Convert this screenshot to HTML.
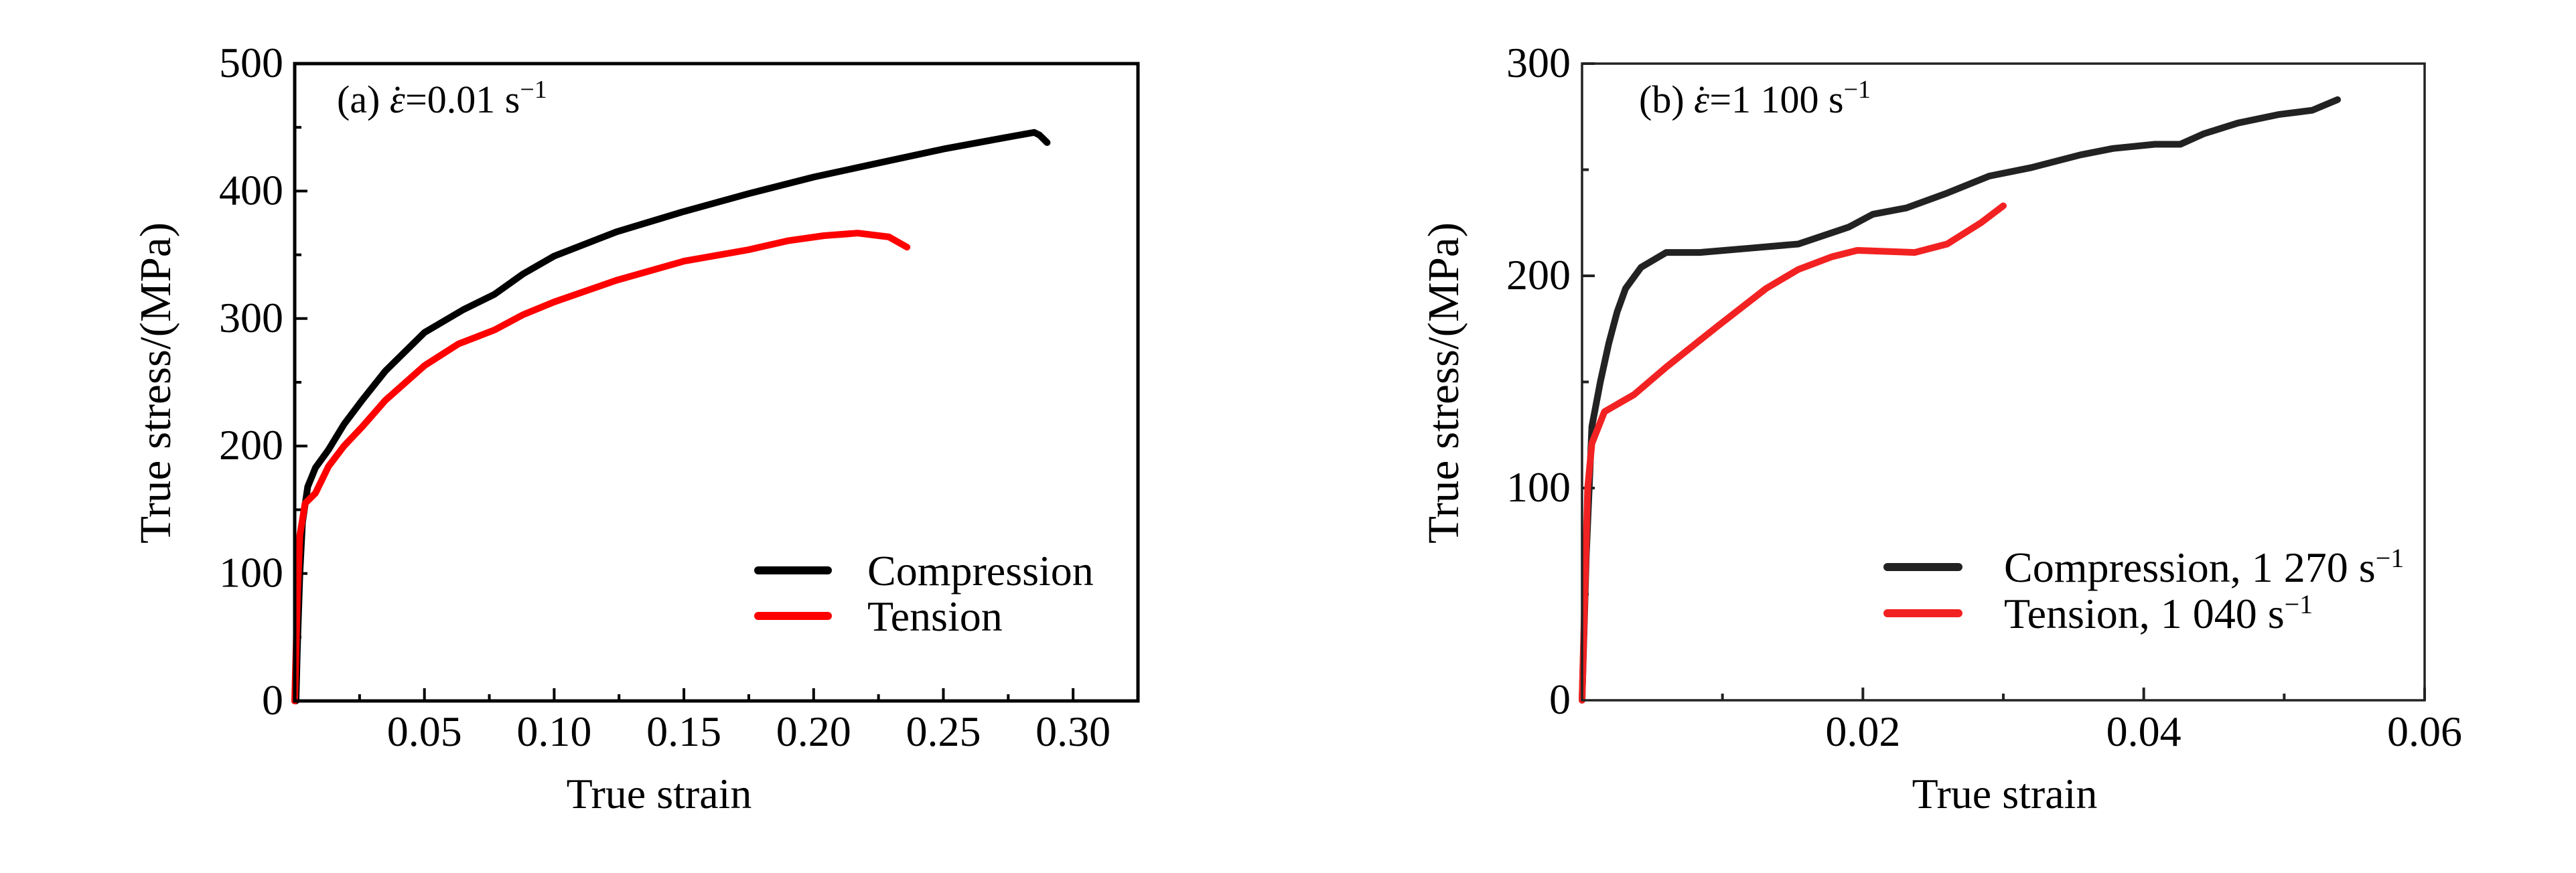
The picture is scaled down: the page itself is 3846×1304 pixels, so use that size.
<!DOCTYPE html>
<html><head><meta charset="utf-8"><style>
html,body{margin:0;padding:0;background:#fff}
svg text{font-family:"Liberation Serif","DejaVu Serif",serif;fill:#000}
</style></head><body>
<svg id="fig" width="3846" height="1299" viewBox="0 0 3846 1299" xmlns="http://www.w3.org/2000/svg">
<rect width="3846" height="1299" fill="#fff"/>
<g id="pa"></g>
<g id="pb"></g>
</svg>
<script>
// Panel (a) data
const aCompX=[0,0.0005,0.001,0.002,0.003,0.005,0.008,0.013,0.019,0.026,0.035,0.05,0.065,0.077,0.088,0.10,0.124,0.15,0.175,0.20,0.225,0.25,0.274,0.285,0.287,0.29];
const aCompY=[0,0,40,100,140,168,183,197,217,236,259,289,307,319,335,349,368,384,398,411,422,433,442,446,444,438];
const aTensX=[0,0.001,0.002,0.004,0.008,0.013,0.019,0.026,0.035,0.05,0.063,0.077,0.088,0.10,0.124,0.15,0.175,0.19,0.204,0.217,0.229,0.236];
const aTensY=[0,80,130,155,163,184,200,215,236,263,280,291,303,313,330,345,354,361,365,367,364,356];
const aXTicks=["0.05","0.10","0.15","0.20","0.25","0.30"];
const aYTicks=["0","100","200","300","400","500"];
// Panel (b) data
const bCompX=[0,0.0003,0.0007,0.0013,0.0019,0.0025,0.0031,0.0042,0.006,0.0084,0.0119,0.0154,0.019,0.0207,0.0231,0.026,0.029,0.032,0.0355,0.0378,0.0408,0.0426,0.0443,0.0467,0.0496,0.052,0.0538];
const bCompY=[0,68,129,150,168,183,194,204,211,211,213,215,223,229,232,239,247,251,257,260,262,262,267,272,276,278,283];
const bTensX=[0,0.0002,0.0004,0.0007,0.0016,0.0037,0.006,0.0096,0.0131,0.0154,0.0178,0.0196,0.0237,0.026,0.0284,0.03];
const bTensY=[0,50,100,121,136,144,157,176,194,203,209,212,211,215,225,233];
const bXTicks=["0.02","0.04","0.06"];
const bYTicks=["0","100","200","300"];

const NS="http://www.w3.org/2000/svg";
function mk(parent,tag,attrs){const e=document.createElementNS(NS,tag);for(const k in attrs)e.setAttribute(k,attrs[k]);parent.appendChild(e);return e;}

function panel(g,cfg){
  const {x0,x1,y0,y1,xmax,ymax}=cfg;
  const sx=v=>x0+(v/xmax)*(x1-x0);
  const sy=v=>y1-(v/ymax)*(y1-y0);
  const axc=cfg.axisColor;
  for(let v=cfg.xMinor;v<xmax+1e-9;v+=cfg.xMinor){
    const major=Math.abs(Math.round(v/cfg.xMajor)*cfg.xMajor-v)<1e-9;
    const t=mk(g,'line',{x1:sx(v),x2:sx(v),y1:y1,y2:y1-(major?19:10),stroke:axc,'stroke-width':4});
    
    
  }
  for(let v=cfg.yMinor;v<ymax+1e-9;v+=cfg.yMinor){
    const major=Math.abs(Math.round(v/cfg.yMajor)*cfg.yMajor-v)<1e-9;
    const t=mk(g,'line',{x1:x0,x2:x0+(major?19:10),y1:sy(v),y2:sy(v),stroke:axc,'stroke-width':4});
    
    
  }
  cfg.xTicks.forEach(s=>{
    const t=mk(g,'text',{x:sx(parseFloat(s)),y:1114,'font-size':64,'text-anchor':'middle'});
    t.textContent=s;
    
    
  });
  cfg.yTicks.forEach(s=>{
    const t=mk(g,'text',{x:x0-17,y:sy(parseFloat(s))+20,'font-size':64,'text-anchor':'end'});
    t.textContent=s;
    
    
  });
  cfg.series.forEach(se=>{
    const d=se.x.map((v,i)=>(i?'L':'M')+sx(v).toFixed(1)+','+sy(se.y[i]).toFixed(1)).join(' ');
    const p=mk(g,'path',{d:d,fill:'none',stroke:se.color,'stroke-width':10,'stroke-linejoin':'round','stroke-linecap':'round'});
    
    
  });
  const f=mk(g,'rect',{x:x0,y:y0,width:x1-x0,height:y1-y0,fill:'none',stroke:axc,'stroke-width':cfg.frameW});
  
  
  const xt=mk(g,'text',{x:cfg.xLabelX,y:1207,'font-size':64,'text-anchor':'middle'});
  xt.textContent='True strain';
  
  
  const yt=mk(g,'text',{x:0,y:0,'font-size':66,'text-anchor':'middle',textLength:480,lengthAdjust:'spacingAndGlyphs',transform:`translate(${cfg.yLabelX},572) rotate(-90)`});
  yt.textContent='True stress/(MPa)';
  
  
  cfg.legend.forEach(l=>{
    const ln=mk(g,'line',{x1:l.lx1,x2:l.lx2,y1:l.y,y2:l.y,stroke:l.color,'stroke-width':12,'stroke-linecap':'round'});
    
    
    const t=mk(g,'text',{x:l.tx,y:l.y+22,'font-size':64});
    t.innerHTML=l.html;
    
    
  });
  const an=mk(g,'text',{x:cfg.annX,y:168,'font-size':58});
  an.innerHTML=cfg.ann;
  
  
}

const EPS='<tspan font-style="italic">ε</tspan><tspan dx="-21">˙</tspan><tspan dx="2">=';
panel(document.getElementById('pa'),{x0:440,x1:1699,y0:95,y1:1047,xmax:0.325,ymax:500,
  xMinor:0.025,xMajor:0.05,yMinor:50,yMajor:100,xTicks:aXTicks,yTicks:aYTicks,axisColor:'#000',frameW:5,
  xLabelX:984,yLabelX:254,annX:503,
  ann:'(a) '+EPS+'0.01 s</tspan><tspan dy="-22" font-size="38">−1</tspan>',
  series:[{x:aCompX,y:aCompY,color:'#000',name:'compression-curve'},{x:aTensX,y:aTensY,color:'#ff0000',name:'tension-curve'}],
  legend:[{lx1:1132,lx2:1236,y:852,color:'#000',tx:1295,html:'Compression'},
          {lx1:1132,lx2:1236,y:920,color:'#ff0000',tx:1295,html:'Tension'}]});
panel(document.getElementById('pb'),{x0:2362,x1:3620,y0:95,y1:1046,xmax:0.06,ymax:300,
  xMinor:0.01,xMajor:0.02,yMinor:50,yMajor:100,xTicks:bXTicks,yTicks:bYTicks,axisColor:'#222',frameW:3.5,
  xLabelX:2993,yLabelX:2177,annX:2447,
  ann:'(b)  '+EPS+'1 100 s</tspan><tspan dy="-22" font-size="38">−1</tspan>',
  series:[{x:bCompX,y:bCompY,color:'#222',name:'compression-curve'},{x:bTensX,y:bTensY,color:'#f22222',name:'tension-curve'}],
  legend:[{lx1:2818,lx2:2924,y:847,color:'#222',tx:2992,html:'Compression, 1 270 s<tspan dy="-22" font-size="40">−1</tspan>'},
          {lx1:2818,lx2:2924,y:916,color:'#f22222',tx:2992,html:'Tension, 1 040 s<tspan dy="-22" font-size="40">−1</tspan>'}]});
</script>
</body></html>
